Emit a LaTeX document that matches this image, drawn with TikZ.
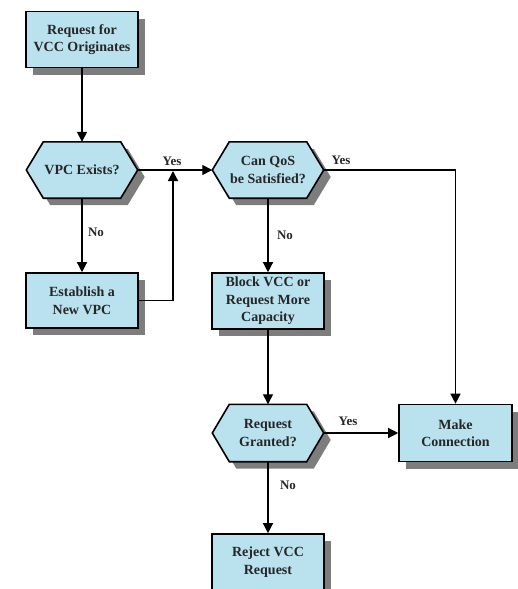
\documentclass[tikz,border=0pt]{standalone}
\usepackage{fontspec}
\setmainfont{Liberation Serif}
\usetikzlibrary{arrows.meta,shadows,backgrounds}
\definecolor{boxfill}{RGB}{185,225,238}
\definecolor{shadowc}{RGB}{125,125,125}
\begin{document}
\begin{tikzpicture}[x=1pt,y=-1pt,
  txt/.style={font=\bfseries\fontsize{14}{17.5}\selectfont, align=center, text=black!85},
  shad/.style={drop shadow={shadow xshift=7pt, shadow yshift=-7pt, fill=shadowc, opacity=1}},
  box/.style={txt, draw=black, line width=1.6pt, fill=boxfill, minimum width=112pt, minimum height=56pt, inner sep=0pt, shad},
  dec/.style={txt, minimum width=111pt, minimum height=56pt, inner sep=0pt},
  hexa/.style={draw=black, line width=1.6pt, fill=boxfill, line join=miter, shad},
  conn/.style={line width=1.3pt, -{Triangle[length=10pt,width=10pt]}},
  plain/.style={line width=1.3pt},
  lab/.style={font=\bfseries\fontsize{13}{15}\selectfont, text=black!85}
]
\useasboundingbox (0,0) rectangle (517,589);

\node[box] (orig) at (82,39.5) {Request for\\VCC Originates};
\node[dec] (vpc) at (82,170) {VPC Exists?};
\node[box, minimum height=55pt] (est) at (82,300.5) {Establish a\\New VPC};
\node[dec] (qos) at (268,170) {Can QoS\\be Satisfied?};
\node[box] (blk) at (268,301) {Block VCC or\\Request More\\Capacity};
\node[dec, minimum height=57pt] (grant) at (268,433) {Request\\Granted?};
\node[box, minimum width=113pt, minimum height=57pt] (mc) at (455.5,433) {Make\\Connection};
\node[box] (rej) at (268,562) {Reject VCC\\Request};

\begin{scope}[on background layer]
\foreach \n in {vpc,qos,grant}
  \path[hexa] (\n.west) -- ([xshift=17pt]\n.north west) -- ([xshift=-17pt]\n.north east)
    -- (\n.east) -- ([xshift=-17pt]\n.south east) -- ([xshift=17pt]\n.south west) -- cycle;
\end{scope}

\coordinate (join) at (173,171);
\draw[conn] (orig.south) -- (vpc.north);
\draw[conn] (vpc.east) -- (qos.west);
\draw[conn] (vpc.south) -- (est.north);
\draw[conn] (est.east) -| (join);
\draw[conn] (qos.south) -- (blk.north);
\draw[conn] (qos.east) -| (mc.north);
\draw[conn] (blk.south) -- (grant.north);
\draw[conn] (grant.east) -- (mc.west);
\draw[conn] (grant.south) -- (rej.north);

\node[lab] (y1) at (172,161) {Yes};
\node[lab] (y2) at (341,160) {Yes};
\node[lab] (y3) at (348,421) {Yes};
\node[lab] (n1) at (96,232) {No};
\node[lab] (n2) at (285,235) {No};
\node[lab] (n3) at (288,485) {No};
\end{tikzpicture}
\end{document}
